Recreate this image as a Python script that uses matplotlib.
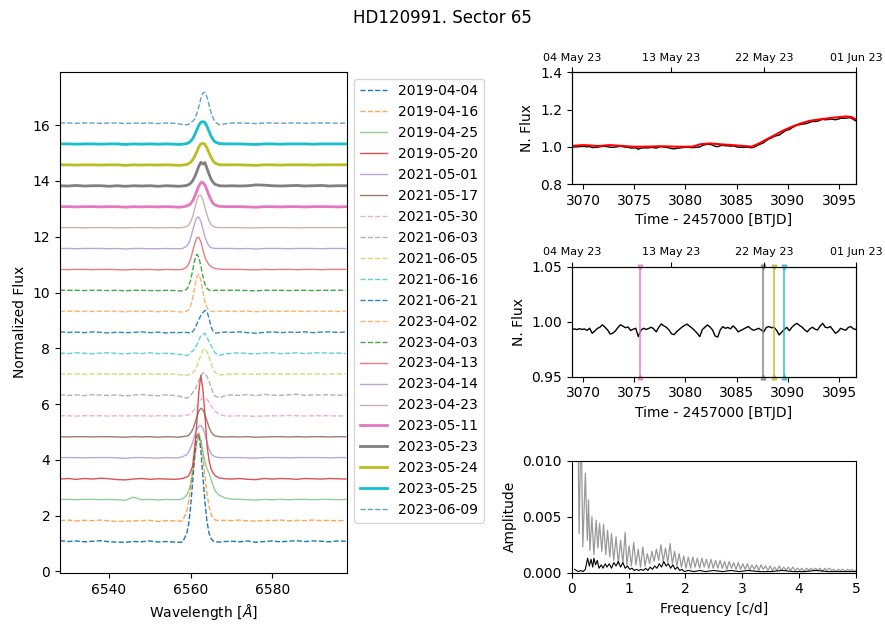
import matplotlib
matplotlib.use("Agg")
import matplotlib.pyplot as plt

# ---- H-alpha spectra (normalised flux) ----
wavelength = [6528, 6530, 6532, 6534, 6536, 6538, 6540, 6542, 6544, 6546, 6548, 6550, 6552, 6554, 6556,
              6557, 6558,
              6559, 6559.5, 6560, 6560.5, 6561, 6561.5, 6562, 6562.5, 6563, 6563.5, 6564, 6564.5, 6565, 6565.5, 6566,
              6567, 6568.5,
              6570, 6572, 6574, 6576, 6578, 6580, 6582, 6584, 6586, 6588, 6590, 6592, 6594, 6596, 6598]

spec_dates = ['2019-04-04', '2019-04-16', '2019-04-25', '2019-05-20', '2021-05-01', '2021-05-17',
              '2021-05-30', '2021-06-03', '2021-06-05', '2021-06-16', '2021-06-21', '2023-04-02',
              '2023-04-03', '2023-04-13', '2023-04-14', '2023-04-23', '2023-05-11', '2023-05-23',
              '2023-05-24', '2023-05-25', '2023-06-09']

f_20190404 = [1.02, 0.99, 1.01, 0.98, 1.00, 1.02, 0.98, 0.97, 0.96, 0.99, 0.98, 1.01, 0.97, 0.99, 0.97,
              0.96, 0.97,
              1.25, 1.60, 2.25, 3.14, 4.07, 4.76, 4.86, 4.26, 3.33, 2.41, 1.71, 1.29, 1.10, 1.01, 0.98,
              0.97, 0.99,
              1.00, 0.98, 1.01, 0.96, 0.99, 1.01, 0.98, 1.00, 1.02, 0.99, 1.01, 1.00, 0.98, 1.01, 1.00]
f_20190416 = [0.99, 1.01, 0.98, 1.00, 0.99, 1.01, 0.98, 0.96, 0.97, 0.98, 0.99, 1.00, 0.96, 0.99, 0.98,
              0.97, 0.98,
              1.31, 1.66, 2.18, 2.86, 3.54, 4.03, 4.15, 3.87, 3.28, 2.58, 1.95, 1.50, 1.22, 1.08, 1.01,
              0.99, 1.00,
              0.99, 1.01, 0.98, 0.97, 1.00, 0.99, 1.01, 0.98, 1.00, 0.99, 1.01, 0.99, 1.00, 0.98, 1.00]
f_20190425 = [1.00, 1.00, 0.99, 1.00, 1.00, 0.99, 1.00, 0.99, 0.97, 1.08, 0.99, 1.00, 0.98, 1.00, 0.99,
              0.99, 1.02,
              1.15, 1.30, 1.55, 1.95, 2.50, 3.05, 3.30, 3.10, 2.70, 2.35, 2.10, 1.95, 1.70, 1.50, 1.30,
              1.15, 1.05,
              1.01, 1.00, 0.99, 0.98, 1.00, 0.99, 1.00, 0.99, 1.00, 1.00, 0.99, 1.00, 1.00, 0.99, 1.00]
f_20190520 = [0.98, 1.00, 0.97, 1.00, 0.98, 1.01, 0.99, 0.96, 0.95, 0.98, 1.00, 0.97, 0.99, 0.98, 0.97,
              0.98, 1.00,
              1.05, 1.10, 1.25, 1.45, 2.10, 3.00, 4.10, 4.70, 4.20, 3.30, 2.20, 1.65, 1.35, 1.20, 1.10,
              1.02, 0.99,
              0.98, 1.00, 0.97, 0.96, 1.00, 0.98, 1.00, 0.99, 0.97, 1.00, 0.99, 0.98, 1.00, 0.99, 0.98]
f_20210501 = [1.00, 1.00, 1.00, 0.99, 1.00, 1.00, 1.00, 0.99, 0.97, 1.00, 1.00, 0.99, 0.98, 1.00, 0.99,
              0.99, 1.03,
              1.10, 1.20, 1.35, 1.55, 1.80, 2.00, 2.12, 2.15, 2.05, 1.85, 1.55, 1.30, 1.15, 1.07, 1.03,
              1.00, 1.00,
              1.00, 1.00, 0.99, 0.98, 1.00, 1.00, 1.00, 0.99, 1.00, 1.00, 1.00, 1.00, 0.99, 1.00, 1.00]
f_20210517 = [1.00, 0.99, 1.00, 1.00, 0.99, 1.00, 1.00, 0.99, 0.98, 1.00, 0.99, 1.00, 0.98, 1.00, 0.99,
              0.98, 1.00,
              1.02, 1.05, 1.13, 1.26, 1.46, 1.70, 1.91, 2.02, 1.97, 1.79, 1.56, 1.34, 1.17, 1.08, 1.03,
              1.00, 0.99,
              1.00, 0.99, 1.00, 0.98, 0.99, 1.00, 1.00, 0.99, 1.00, 0.99, 1.00, 1.00, 0.99, 1.00, 1.00]
f_20210530 = [1.00, 1.00, 0.99, 1.00, 1.00, 1.00, 0.99, 1.00, 0.99, 1.00, 1.00, 0.99, 1.00, 1.00, 0.99,
              0.99, 1.00,
              1.02, 1.04, 1.08, 1.14, 1.24, 1.35, 1.47, 1.58, 1.64, 1.64, 1.59, 1.49, 1.37, 1.26, 1.16,
              1.05, 0.99,
              0.99, 1.00, 0.99, 0.98, 0.99, 1.00, 1.00, 1.01, 1.00, 0.99, 1.00, 1.00, 1.00, 0.99, 1.00]
f_20210603 = [1.01, 0.98, 1.00, 0.97, 1.01, 0.99, 0.98, 1.00, 0.96, 0.99, 1.01, 0.98, 0.97, 1.00, 0.98,
              0.96, 0.92,
              0.88, 0.91, 0.98, 1.08, 1.18, 1.33, 1.51, 1.69, 1.79, 1.78, 1.66, 1.48, 1.26, 1.08, 0.95,
              0.90, 0.97,
              1.00, 0.98, 1.01, 0.97, 1.02, 0.99, 0.98, 1.00, 1.02, 0.98, 1.00, 0.99, 1.01, 0.98, 1.00]
f_20210605 = [1.00, 1.00, 1.00, 0.99, 1.00, 1.00, 0.99, 1.00, 0.99, 1.00, 1.00, 1.00, 0.99, 1.00, 0.99,
              0.98, 0.96,
              0.95, 0.97, 1.00, 1.04, 1.12, 1.27, 1.47, 1.69, 1.85, 1.90, 1.80, 1.60, 1.39, 1.19, 1.05,
              0.96, 0.98,
              1.00, 1.00, 0.99, 0.99, 1.00, 1.00, 1.00, 0.99, 1.00, 1.00, 1.00, 0.99, 1.00, 1.00, 1.00]
f_20210616 = [1.00, 0.98, 1.01, 0.99, 0.97, 1.00, 1.01, 0.98, 0.97, 1.00, 0.98, 1.01, 0.98, 0.99, 0.97,
              0.96, 0.94,
              0.91, 0.94, 1.03, 1.07, 1.16, 1.29, 1.45, 1.63, 1.66, 1.71, 1.55, 1.42, 1.26, 1.14, 1.00,
              0.92, 0.97,
              0.99, 1.01, 0.98, 0.97, 1.00, 1.01, 0.98, 0.99, 1.01, 0.98, 1.00, 1.01, 0.99, 1.00, 0.98]
f_20210621 = [1.01, 0.99, 1.00, 0.98, 1.01, 0.99, 0.97, 1.00, 0.98, 0.99, 1.01, 0.98, 1.00, 0.97, 0.99,
              0.98, 0.99,
              0.99, 0.98, 0.96, 1.02, 1.12, 1.28, 1.45, 1.60, 1.70, 1.78, 1.75, 1.50, 1.20, 1.03, 0.97,
              0.98, 1.00,
              0.99, 1.01, 0.98, 0.96, 0.99, 1.01, 0.98, 1.00, 0.99, 1.01, 0.98, 1.00, 1.01, 0.99, 1.00]
f_20230402 = [1.00, 1.00, 0.99, 1.00, 0.99, 1.00, 1.00, 0.99, 0.98, 1.00, 0.99, 1.00, 0.98, 1.00, 0.99,
              0.98, 0.97,
              1.00, 1.05, 1.19, 1.47, 1.87, 2.23, 2.33, 2.11, 1.71, 1.34, 1.12, 1.03, 1.00, 0.99, 0.99,
              1.00, 1.00,
              1.00, 0.99, 1.00, 0.98, 1.00, 1.00, 0.99, 1.00, 1.00, 0.99, 1.00, 1.00, 1.00, 0.99, 1.00]
f_20230403 = [1.00, 1.00, 1.00, 0.99, 1.00, 1.00, 0.99, 1.00, 0.98, 1.00, 1.00, 0.99, 0.99, 1.00, 0.99,
              0.98, 0.98,
              1.03, 1.15, 1.37, 1.72, 2.08, 2.29, 2.19, 1.87, 1.50, 1.22, 1.07, 1.01, 0.99, 0.99, 1.00,
              1.00, 1.00,
              1.00, 1.00, 0.99, 0.98, 1.00, 1.00, 1.00, 0.99, 1.00, 1.00, 0.99, 1.00, 1.00, 1.00, 1.00]
f_20230413 = [1.00, 0.99, 1.00, 1.00, 0.99, 1.00, 1.00, 0.99, 0.98, 1.00, 0.99, 1.00, 0.98, 1.00, 0.99,
              0.99, 1.00,
              1.08, 1.19, 1.38, 1.65, 1.93, 2.13, 2.15, 1.99, 1.71, 1.43, 1.28, 1.17, 1.10, 1.06, 1.03,
              1.01, 1.00,
              1.00, 1.00, 0.99, 0.98, 1.00, 0.99, 1.00, 1.00, 0.99, 1.00, 1.00, 0.99, 1.00, 1.00, 1.00]
f_20230414 = [1.00, 1.00, 0.99, 1.00, 1.00, 1.00, 0.99, 1.00, 0.98, 1.00, 1.00, 0.99, 0.99, 1.00, 0.99,
              0.99, 1.00,
              1.08, 1.18, 1.38, 1.64, 1.91, 2.11, 2.13, 1.97, 1.70, 1.42, 1.22, 1.09, 1.03, 1.01, 1.00,
              1.00, 1.00,
              1.00, 0.99, 1.00, 0.98, 1.00, 1.00, 1.00, 0.99, 1.00, 1.00, 1.00, 0.99, 1.00, 1.00, 1.00]
f_20230423 = [1.00, 1.00, 1.00, 0.99, 1.00, 1.00, 1.00, 0.99, 0.99, 1.00, 1.00, 1.00, 0.99, 1.00, 1.00,
              0.99, 1.00,
              1.03, 1.09, 1.21, 1.40, 1.68, 1.96, 2.15, 2.16, 2.00, 1.73, 1.46, 1.24, 1.11, 1.04, 1.01,
              1.00, 1.00,
              1.00, 1.00, 0.99, 0.99, 1.00, 1.00, 1.00, 1.00, 0.99, 1.00, 1.00, 1.00, 1.00, 1.00, 1.00]
f_20230511 = [1.00, 1.00, 0.99, 1.00, 1.00, 0.99, 1.00, 1.00, 0.98, 1.00, 0.99, 1.00, 0.99, 1.00, 0.99,
              0.98, 0.99,
              1.02, 1.05, 1.11, 1.21, 1.37, 1.56, 1.74, 1.86, 1.87, 1.77, 1.60, 1.40, 1.24, 1.12, 1.06,
              1.01, 1.00,
              1.00, 1.00, 0.99, 0.98, 1.00, 1.00, 0.99, 1.00, 1.00, 0.99, 1.00, 1.00, 1.00, 0.99, 1.00]
f_20230523 = [1.00, 0.99, 1.01, 0.99, 1.00, 1.00, 0.98, 1.00, 0.98, 1.00, 0.99, 1.00, 0.98, 1.00, 0.99,
              0.98, 0.99,
              1.01, 1.04, 1.09, 1.18, 1.32, 1.50, 1.70, 1.84, 1.78, 1.83, 1.62, 1.42, 1.24, 1.12, 1.05,
              1.00, 0.99,
              1.00, 0.99, 1.00, 1.03, 1.02, 1.00, 0.99, 1.00, 1.01, 0.99, 1.00, 1.01, 0.99, 1.00, 1.00]
f_20230524 = [1.00, 1.00, 0.99, 1.00, 1.00, 0.99, 1.00, 1.00, 0.98, 1.00, 0.99, 1.00, 0.99, 1.00, 0.99,
              0.98, 0.99,
              1.01, 1.04, 1.09, 1.18, 1.31, 1.47, 1.64, 1.75, 1.77, 1.74, 1.60, 1.43, 1.27, 1.14, 1.06,
              1.00, 1.00,
              1.00, 1.00, 0.99, 0.98, 1.00, 1.00, 0.99, 1.00, 1.00, 1.00, 0.99, 1.00, 1.00, 1.00, 1.00]
f_20230525 = [1.00, 1.00, 0.99, 1.00, 1.00, 0.99, 1.00, 1.00, 0.98, 1.00, 0.99, 1.00, 0.99, 1.00, 0.99,
              0.98, 0.99,
              1.01, 1.04, 1.10, 1.19, 1.33, 1.50, 1.67, 1.78, 1.80, 1.77, 1.63, 1.45, 1.28, 1.15, 1.07,
              1.01, 1.00,
              1.00, 1.00, 0.99, 0.98, 1.00, 1.00, 0.99, 1.00, 1.00, 1.00, 0.99, 1.00, 1.00, 1.00, 1.00]
f_20230609 = [1.00, 1.00, 0.99, 1.00, 1.00, 0.99, 1.00, 1.00, 0.98, 1.00, 0.99, 1.00, 0.98, 1.00, 0.99,
              0.97, 0.95,
              0.94, 0.95, 1.02, 1.06, 1.15, 1.33, 1.59, 1.88, 2.08, 2.10, 1.93, 1.65, 1.37, 1.18, 1.03,
              0.94, 0.97,
              1.00, 1.00, 0.99, 0.98, 1.00, 1.00, 0.99, 1.00, 1.00, 0.99, 1.00, 1.00, 1.00, 0.99, 1.00]

spectra = [f_20190404, f_20190416, f_20190425, f_20190520, f_20210501, f_20210517, f_20210530,
           f_20210603, f_20210605, f_20210616, f_20210621, f_20230402, f_20230403, f_20230413,
           f_20230414, f_20230423, f_20230511, f_20230523, f_20230524, f_20230525, f_20230609]

# ---- TESS sector 65 light curve ----
time = [3068.90, 3069.15, 3069.40, 3069.65, 3069.90, 3070.15, 3070.40, 3070.65, 3070.90, 3071.15,
        3071.40, 3071.65, 3071.90, 3072.15, 3072.40, 3072.65, 3072.90, 3073.15, 3073.40, 3073.65,
        3073.90, 3074.15, 3074.40, 3074.65, 3074.90, 3075.15, 3075.40, 3075.65, 3075.90, 3076.15,
        3076.40, 3076.65, 3076.90, 3077.15, 3077.40, 3077.65, 3077.90, 3078.15, 3078.40, 3078.65,
        3078.90, 3079.15, 3079.40, 3079.65, 3079.90, 3080.15, 3080.40, 3080.65, 3080.90, 3081.15,
        3081.40, 3081.65, 3081.90, 3082.15, 3082.40, 3082.65, 3082.90, 3083.15, 3083.40, 3083.65,
        3083.90, 3084.15, 3084.40, 3084.65, 3084.90, 3085.15, 3085.40, 3085.65, 3085.90, 3086.15,
        3086.40, 3086.65, 3086.90, 3087.15, 3087.40, 3087.65, 3087.90, 3088.15, 3088.40, 3088.65,
        3088.90, 3089.15, 3089.40, 3089.65, 3089.90, 3090.15, 3090.40, 3090.65, 3090.90, 3091.15,
        3091.40, 3091.65, 3091.90, 3092.15, 3092.40, 3092.65, 3092.90, 3093.15, 3093.40, 3093.65,
        3093.90, 3094.15, 3094.40, 3094.65, 3094.90, 3095.15, 3095.40, 3095.65, 3095.90, 3096.15,
        3096.40, 3096.65]
flux = [0.9975, 0.9995, 0.9994, 1.0012, 1.0015, 1.0019, 0.9999, 1.0011, 0.9957, 0.9969,
        0.9982, 0.9997, 1.0030, 1.0020, 1.0006, 0.9975, 0.9973, 0.9984, 1.0006, 1.0025,
        1.0004, 0.9979, 0.9976, 0.9934, 0.9936, 0.9941, 0.9868, 0.9926, 0.9946, 0.9938,
        0.9947, 0.9963, 0.9953, 0.9931, 0.9978, 1.0008, 0.9986, 0.9968, 0.9942, 0.9903,
        0.9891, 0.9915, 0.9932, 0.9951, 0.9968, 0.9983, 0.9968, 0.9952, 0.9963, 0.9977,
        0.9987, 1.0074, 1.0107, 1.0138, 1.0131, 1.0093, 1.0025, 1.0004, 1.0059, 1.0079,
        1.0054, 1.0053, 1.0031, 1.0050, 1.0016, 0.9972, 0.9974, 0.9973, 0.9978, 0.9979,
        0.9949, 0.9968, 1.0036, 1.0107, 1.0163, 1.0220, 1.0336, 1.0417, 1.0477, 1.0555,
        1.0597, 1.0626, 1.0727, 1.0820, 1.0899, 1.0926, 1.1021, 1.1099, 1.1163, 1.1191,
        1.1220, 1.1232, 1.1254, 1.1320, 1.1358, 1.1357, 1.1369, 1.1430, 1.1476, 1.1452,
        1.1464, 1.1492, 1.1473, 1.1452, 1.1483, 1.1530, 1.1533, 1.1536, 1.1558, 1.1552,
        1.1467, 1.1390]
residual = [0.9925, 0.9935, 0.9928, 0.9936, 0.9930, 0.9934, 0.9922, 0.9940, 0.9895, 0.9915,
            0.9938, 0.9950, 0.9972, 0.9950, 0.9925, 0.9888, 0.9895, 0.9915, 0.9945, 0.9972,
            0.9960, 0.9945, 0.9952, 0.9920, 0.9932, 0.9940, 0.9865, 0.9922, 0.9940, 0.9930,
            0.9938, 0.9950, 0.9935, 0.9908, 0.9950, 0.9980, 0.9962, 0.9948, 0.9925, 0.9890,
            0.9882, 0.9910, 0.9930, 0.9950, 0.9965, 0.9978, 0.9960, 0.9942, 0.9920, 0.9895,
            0.9865, 0.9928, 0.9950, 0.9970, 0.9952, 0.9925, 0.9870, 0.9860, 0.9925, 0.9955,
            0.9940, 0.9948, 0.9935, 0.9962, 0.9940, 0.9908, 0.9920, 0.9932, 0.9945, 0.9956,
            0.9935, 0.9922, 0.9930, 0.9940, 0.9925, 0.9908, 0.9948, 0.9956, 0.9945, 0.9950,
            0.9922, 0.9880, 0.9905, 0.9930, 0.9948, 0.9918, 0.9950, 0.9972, 0.9985, 0.9965,
            0.9950, 0.9925, 0.9908, 0.9935, 0.9950, 0.9932, 0.9925, 0.9960, 0.9985, 0.9950,
            0.9945, 0.9956, 0.9925, 0.9895, 0.9910, 0.9940, 0.9930, 0.9922, 0.9948, 0.9956,
            0.9935, 0.9930]

model_time = [3068.9, 3069.5, 3070.0, 3071.0, 3071.5, 3072.6, 3074.0, 3075.0, 3076.5, 3077.5,
              3079.5, 3080.7, 3081.5, 3082.4, 3083.5, 3084.6, 3085.7, 3086.5, 3087.2, 3087.9,
              3088.9, 3089.5, 3090.5, 3091.3, 3092.1, 3093.2, 3094.4, 3095.7, 3096.2, 3096.65]
model = [1.005, 1.007, 1.009, 1.006, 1.004, 1.009, 1.004, 1.000, 1.001, 1.003,
         1.000, 1.001, 1.014, 1.018, 1.013, 1.009, 1.004, 1.001, 1.018, 1.039,
         1.068, 1.086, 1.110, 1.126, 1.139, 1.148, 1.156, 1.163, 1.160, 1.147]

# spectra taken during the sector (BTJD) and which spectrum they belong to
sector_spec_btjd = [3075.6, 3087.6, 3088.6, 3089.6]
sector_spec_index = [16, 17, 18, 19]

date_ticks = [3068.9, 3078.6, 3087.65, 3096.65]
date_labels = ['04 May 23', '13 May 23', '22 May 23', '01 Jun 23']

# ---- amplitude spectra ----
freq_lc = [0.06, 0.10, 0.13, 0.165, 0.195, 0.24, 0.275, 0.295, 0.32, 0.355, 0.39, 0.43, 0.46, 0.49,
           0.53, 0.56, 0.60, 0.63, 0.67, 0.70, 0.74, 0.78, 0.82, 0.86, 0.90, 0.94, 0.97, 1.01, 1.05,
           1.09, 1.13, 1.17, 1.21, 1.25, 1.29, 1.33, 1.37, 1.41, 1.45, 1.49, 1.53, 1.57, 1.61, 1.65,
           1.69, 1.73, 1.77, 1.81, 1.85, 1.89, 1.93, 1.97, 2.01, 2.05, 2.09, 2.13, 2.17, 2.21, 2.25,
           2.29, 2.33, 2.37, 2.41, 2.45, 2.49, 2.53, 2.57, 2.61, 2.65, 2.69, 2.73, 2.77, 2.81, 2.85,
           2.89, 2.93, 2.97, 3.01, 3.05, 3.09, 3.13, 3.17, 3.21, 3.25, 3.29, 3.33, 3.37, 3.41, 3.45,
           3.49, 3.53, 3.57, 3.61, 3.65, 3.69, 3.73, 3.77, 3.81, 3.85, 3.89, 3.93, 3.97, 4.01, 4.05,
           4.09, 4.13, 4.17, 4.21, 4.25, 4.29, 4.33, 4.37, 4.41, 4.45, 4.49, 4.53, 4.57, 4.61, 4.65,
           4.69, 4.73, 4.77, 4.81, 4.85, 4.89, 4.93, 4.97, 5.00]
amp_lc = [0.0300, 0.0180, 0.0035, 0.0140, 0.0023, 0.0089, 0.0029, 0.0065, 0.0020, 0.0050, 0.0016,
          0.0047, 0.0022, 0.0044, 0.0019, 0.0043, 0.0016, 0.0038, 0.0014, 0.0035, 0.0011, 0.0032,
          0.0008, 0.0029, 0.0008, 0.0036, 0.0007, 0.0024, 0.0006, 0.0027, 0.0007, 0.0021, 0.0005,
          0.0023, 0.0006, 0.0017, 0.0008, 0.0019, 0.0010, 0.0021, 0.0011, 0.0025, 0.0010, 0.0022,
          0.0009, 0.0026, 0.0008, 0.0019, 0.0006, 0.0017, 0.0005, 0.0015, 0.0004, 0.0014, 0.0004,
          0.0014, 0.0005, 0.0013, 0.0004, 0.0013, 0.0005, 0.0012, 0.0004, 0.0012, 0.0004, 0.0011,
          0.0004, 0.0011, 0.0004, 0.0010, 0.0003, 0.0010, 0.0004, 0.0009, 0.0003, 0.0009, 0.0003,
          0.0008, 0.0003, 0.0008, 0.0002, 0.0007, 0.0003, 0.0007, 0.0002, 0.0007, 0.0003, 0.0006,
          0.0002, 0.0006, 0.0002, 0.0005, 0.0002, 0.0006, 0.0002, 0.0005, 0.0002, 0.0005, 0.0002,
          0.0005, 0.0002, 0.0004, 0.0002, 0.0004, 0.0001, 0.0004, 0.0002, 0.0004, 0.0002, 0.0004,
          0.0002, 0.0004, 0.0001, 0.0004, 0.0002, 0.0004, 0.0002, 0.0003, 0.0001, 0.0003, 0.0002,
          0.0003, 0.0001, 0.0003, 0.0002, 0.0003, 0.0001, 0.0002]

freq_res = [0.05, 0.08, 0.12, 0.16, 0.20, 0.24, 0.28, 0.31, 0.34, 0.37, 0.39, 0.42, 0.45, 0.48,
            0.52, 0.55, 0.59, 0.62, 0.66, 0.70, 0.74, 0.78, 0.82, 0.86, 0.90, 0.94, 0.98, 1.02,
            1.06, 1.10, 1.14, 1.18, 1.22, 1.26, 1.30, 1.34, 1.38, 1.42, 1.46, 1.50, 1.54, 1.58,
            1.62, 1.66, 1.70, 1.74, 1.78, 1.82, 1.86, 1.90, 1.94, 1.98, 2.05, 2.15, 2.25, 2.35,
            2.50, 2.65, 2.80, 2.95, 3.10, 3.30, 3.50, 3.70, 3.90, 4.10, 4.30, 4.50, 4.70, 4.90, 5.00]
amp_res = [0.0003, 0.0002, 0.0001, 0.0002, 0.0001, 0.0003, 0.0013, 0.0006, 0.0012, 0.0005, 0.0013,
           0.0007, 0.0011, 0.0004, 0.0007, 0.0004, 0.0008, 0.0005, 0.0008, 0.0004, 0.0009, 0.0006,
           0.0010, 0.0005, 0.0009, 0.0004, 0.0006, 0.0003, 0.0004, 0.0002, 0.0003, 0.0002, 0.0003,
           0.0002, 0.0004, 0.0002, 0.0005, 0.0003, 0.0006, 0.0004, 0.0008, 0.0005, 0.0010, 0.0006,
           0.0008, 0.0004, 0.0007, 0.0003, 0.0005, 0.0002, 0.0003, 0.0001, 0.0002, 0.0001, 0.0002,
           0.0001, 0.0002, 0.0001, 0.0002, 0.0001, 0.0002, 0.0001, 0.0001, 0.0002, 0.0001, 0.0001,
           0.0002, 0.0001, 0.0001, 0.0001, 0.0001]

# line style of each spectrum: (linestyle, linewidth, alpha)
styles = [('--', 1, 1.0), ('--', 1, 0.7), ('-', 1, 0.5), ('-', 1, 0.8), ('-', 1, 0.6), ('-', 1, 0.8),
          ('--', 1, 0.6), ('--', 1, 0.6), ('--', 1, 0.6), ('--', 1, 0.7), ('--', 1, 0.9), ('--', 1, 0.6),
          ('--', 1, 0.9), ('-', 1, 0.6), ('-', 1, 0.6), ('-', 1, 0.45), ('-', 2, 1.0), ('-', 2, 1.0),
          ('-', 2, 1.0), ('-', 2, 1.0), ('--', 1, 0.7)]

fig = plt.figure(figsize=(8.85, 6.24), dpi=100)
fig.suptitle('HD120991. Sector 65', fontsize=12, y=0.985)

# Spectra panel
ax_sp = fig.add_axes([0.0678, 0.0817, 0.3243, 0.8034])
for i, fl in enumerate(spectra):
    ls, lw, a = styles[i]
    shift = 0.08 + 0.75 * i
    ax_sp.plot(wavelength, [v + shift for v in fl], ls=ls, lw=lw, alpha=a,
               color='C%d' % (i % 10), label=spec_dates[i])
ax_sp.set_xlim(6528, 6598.3)
ax_sp.set_ylim(-0.06, 17.92)
ax_sp.set_xticks([6540, 6560, 6580])
ax_sp.set_yticks(range(0, 17, 2))
ax_sp.set_xlabel(r'Wavelength [$\AA$]')
ax_sp.set_ylabel('Normalized Flux')
ax_sp.legend(loc='upper left', bbox_to_anchor=(1.0, 1.0))

# Light curve panel
ax_lc = fig.add_axes([0.646, 0.7051, 0.3212, 0.179])
ax_lc.plot(time, flux, color='k', lw=1)
ax_lc.plot(model_time, model, color='red', lw=1.5)
ax_lc.set_xlim(time[0], time[-1])
ax_lc.set_ylim(0.8, 1.4)
ax_lc.set_yticks([0.8, 1.0, 1.2, 1.4])
ax_lc.set_xlabel('Time - 2457000 [BTJD]')
ax_lc.set_ylabel('N. Flux')

# Residual panel
ax_rs = fig.add_axes([0.646, 0.3963, 0.3212, 0.1763])
ax_rs.plot(time, residual, color='k', lw=1)
for t, idx in zip(sector_spec_btjd, sector_spec_index):
    c = 'C%d' % (idx % 10)
    ax_rs.plot([t, t], [0.95, 1.05], color=c, lw=1.5, alpha=0.7)
    ax_rs.plot([t], [1.05], marker='v', ms=3.5, color=c, alpha=0.7, clip_on=False)
    ax_rs.plot([t], [0.95], marker='^', ms=3.5, color=c, alpha=0.7, clip_on=False)
ax_rs.set_xlim(time[0], time[-1])
ax_rs.set_ylim(0.95, 1.05)
ax_rs.set_yticks([0.95, 1.00, 1.05])
ax_rs.set_xlabel('Time - 2457000 [BTJD]')
ax_rs.set_ylabel('N. Flux')

# calendar dates on top of both time panels
for ax in (ax_lc, ax_rs):
    top = ax.twiny()
    top.set_xlim(ax.get_xlim())
    top.set_xticks(date_ticks)
    top.set_xticklabels(date_labels, fontsize=8)

# Periodogram panel
ax_pg = fig.add_axes([0.646, 0.0822, 0.3212, 0.1795])
ax_pg.plot(freq_lc, amp_lc, color='gray', lw=0.9, alpha=0.8)
ax_pg.plot(freq_res, amp_res, color='k', lw=0.8)
ax_pg.set_xlim(0, 5)
ax_pg.set_ylim(0, 0.01)
ax_pg.set_yticks([0.0, 0.005, 0.01])
ax_pg.set_xlabel('Frequency [c/d]')
ax_pg.set_ylabel('Amplitude')

fig.savefig('out.png', dpi=100)
